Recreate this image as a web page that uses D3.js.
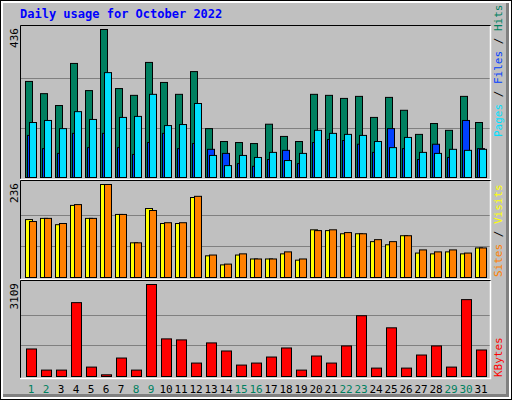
<!DOCTYPE html>
<html><head><meta charset="utf-8">
<script src="https://cdn.jsdelivr.net/npm/d3@7/dist/d3.min.js"></script>
<style>body{margin:0;background:#fff}svg{display:block}</style>
</head><body>
<svg id="c" width="512" height="400"></svg>
<script>
const days = d3.range(1, 32);
const weekend = [1,2,8,9,15,16,22,23,29,30];
const hits  = [283,247,212,336,256,436,262,242,339,280,245,312,144,106,103,100,157,121,106,245,242,233,239,177,236,198,127,159,139,239,162];
const files = [124,85,71,130,88,130,88,68,103,130,85,100,83,71,41,33,53,80,41,103,112,109,98,74,144,85,53,98,59,168,85];
const pages = [162,168,144,194,171,309,177,180,245,153,156,218,65,35,65,59,74,50,71,139,130,127,124,106,88,118,74,71,83,80,83];
const visits= [147,150,134,183,150,236,160,88,175,137,137,203,55,32,57,47,47,60,44,121,119,111,111,91,83,106,62,60,65,60,75];
const sites = [142,150,137,185,150,236,160,88,170,139,139,206,57,34,60,47,47,65,47,119,121,114,111,96,91,106,70,65,70,62,75];
const kbytes= [930,216,216,2496,318,57,624,216,3109,1271,1237,454,1135,862,386,454,658,964,216,692,454,1033,2054,284,1645,284,726,1033,318,2598,896];
const maxLabels = ["436","236","3109"];

const svg = d3.select("#c");
const F = "'DejaVu Sans Mono', monospace";
// frame
svg.append("rect").attr("x",0).attr("y",0).attr("width",512).attr("height",400).attr("fill","#000");
svg.append("rect").attr("x",1).attr("y",1).attr("width",510).attr("height",398).attr("fill","#fff");
svg.append("rect").attr("x",3).attr("y",3).attr("width",506).attr("height",394).attr("fill","#808080");
svg.append("rect").attr("x",3).attr("y",3).attr("width",503).attr("height",391).attr("fill","#c0c0c0");

svg.append("text").attr("x",20).attr("y",18).attr("font-family",F).attr("font-weight","bold")
  .attr("font-size",12).attr("fill","#0000ff").text("Daily usage for October 2022");

const x = d3.scaleLinear().domain([1,31]).range([25,475]);

const panels = [
  {top:25, base:177, max:436, label:maxLabels[0]},
  {top:180, base:277, max:236, label:maxLabels[1]},
  {top:280, base:376, max:3109, label:maxLabels[2]}
];
panels.forEach(p=>{
  p.y = d3.scaleLinear().domain([0,p.max]).range([p.base, p.top+4]);
  const g = svg.append("g");
  // grid
  [1/3,2/3].forEach(f=>{
    g.append("line").attr("x1",21).attr("x2",490).attr("y1",Math.round(p.y(p.max*f))+0.5).attr("y2",Math.round(p.y(p.max*f))+0.5)
      .attr("stroke","#808080");
  });
  g.append("path").attr("d",`M20.5,${p.base+2}V${p.top+0.5}H490.5`).attr("fill","none").attr("stroke","#000");
  g.append("path").attr("d",`M490.5,${p.top+1}V${p.base+2.5}H20`).attr("fill","none").attr("stroke","#fff").attr("stroke-width",1.5);
  g.append("text").attr("transform",`translate(18,${p.top+3}) rotate(-90)`).attr("text-anchor","end")
    .attr("font-family",F).attr("font-size",11).attr("fill","#000").text(p.label);
});

function bars(data, p, off, w, color){
  svg.append("g").selectAll("rect").data(data).join("rect")
    .attr("x",(d,i)=>x(days[i])+off+0.5).attr("width",w)
    .attr("y",d=>p.y(d)+0.5).attr("height",d=>Math.max(0,p.base-p.y(d)))
    .attr("fill",color).attr("stroke","#000").attr("stroke-width",1);
}
bars(hits, panels[0], 0, 7, "#008060");
bars(files, panels[0], 2, 7, "#0040ff");
bars(pages, panels[0], 4, 7, "#00e0ff");
bars(visits, panels[1], 0, 7, "#ffff00");
bars(sites, panels[1], 4, 7, "#ff8000");
bars(kbytes, panels[2], 1, 10, "#ff0000");

svg.append("g").selectAll("text").data(days).join("text")
  .attr("x",d=>x(d)+6).attr("y",393).attr("text-anchor","middle")
  .attr("font-family",F).attr("font-size",11)
  .attr("fill",d=>weekend.includes(d)?"#008060":"#000").text(d=>d);

function rlabel(yEnd, parts){
  const t = svg.append("text").attr("transform",`translate(502,${yEnd}) rotate(-90)`)
    .attr("font-family",F).attr("font-size",11);
  parts.forEach(([s,c])=>t.append("tspan").attr("fill",c).text(s));
}
rlabel(137,[["Pages","#00e0ff"],[" / ","#000"],["Files","#0040ff"],[" / ","#000"],["Hits","#008060"]]);
rlabel(277,[["Sites","#ff8000"],[" / ","#000"],["Visits","#ffff00"]]);
rlabel(377,[["KBytes","#ff0000"]]);
</script>
</body></html>
